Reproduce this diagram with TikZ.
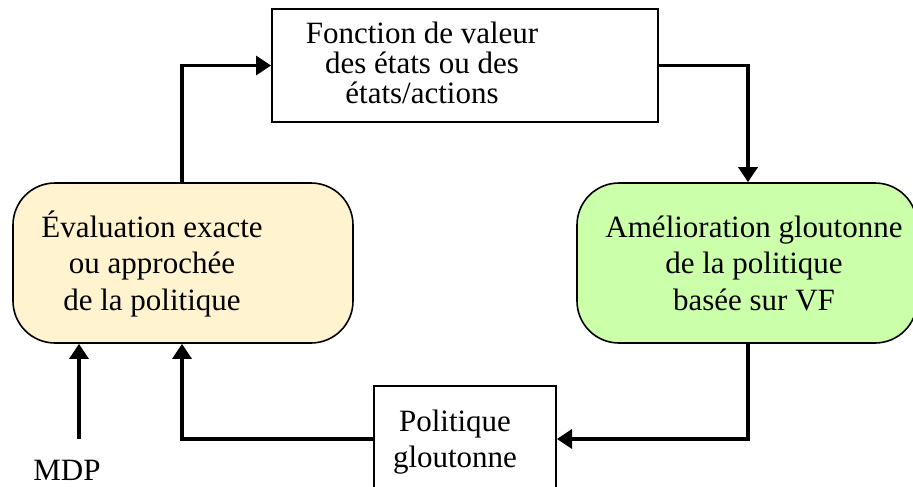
\documentclass[tikz,border=0pt]{standalone}
\usepackage{fontspec}
\setmainfont{Liberation Serif}
\usetikzlibrary{arrows.meta}
\definecolor{evalfill}{RGB}{255,243,208}
\definecolor{amelfill}{RGB}{204,255,170}
\begin{document}
\begin{tikzpicture}[x=1pt,y=-1pt,
  sqbox/.style={draw=black, line width=2pt, inner sep=0pt},
  rbox/.style={draw=black, line width=1.6pt, rounded corners=42pt, inner sep=0pt,
    minimum width=340pt, minimum height=160pt},
  txt/.style={inner sep=0pt, anchor=base, font=\fontsize{31}{36.5}\selectfont},
  txtt/.style={inner sep=0pt, anchor=base, font=\fontsize{31}{27.5}\selectfont},
  flow/.style={line width=3.2pt, -{Triangle[length=15pt,width=19pt]}}]
\useasboundingbox (0,0) rectangle (913,487);
% boxes
\node[sqbox, minimum width=386pt, minimum height=113pt] (vf) at (465,65.5) {};
\node[rbox, fill=evalfill] (ev) at (183,263) {};
\node[rbox, fill=amelfill] (am) at (747,263) {};
\node[sqbox, minimum width=182pt, minimum height=120pt] (pg) at (465,446) {};
% texts
\node[txtt] (vft) at (422,44) {\begin{tabular}[t]{@{}c@{}}Fonction de valeur\\des états ou des\\états/actions\end{tabular}};
\node[txt] (evt) at (152,237) {\begin{tabular}[t]{@{}c@{}}Évaluation exacte\\ou approchée\\de la politique\end{tabular}};
\node[txt] (amt) at (754,237) {\begin{tabular}[t]{@{}c@{}}Amélioration gloutonne\\de la politique\\basée sur VF\end{tabular}};
\node[txt] (pgt) at (455,431) {\begin{tabular}[t]{@{}c@{}}Politique\\gloutonne\end{tabular}};
\node[txt] (mdp) at (67,480) {MDP};
% connectors
\coordinate (c1) at (182,66);
\coordinate (c2) at (748,66);
\coordinate (c3) at (748,439);
\coordinate (c4) at (182,439);
\coordinate (m0) at (79,439);
\draw[flow] (ev.north -| c1) |- (vf.west);
\draw[flow] (vf.east) -| (am.north -| c2);
\draw[flow] (am.south -| c3) |- (pg.east |- c3);
\draw[flow] (pg.west |- c4) -| (ev.south -| c4);
\draw[flow] (m0) -- (ev.south -| m0);
\end{tikzpicture}
\end{document}
